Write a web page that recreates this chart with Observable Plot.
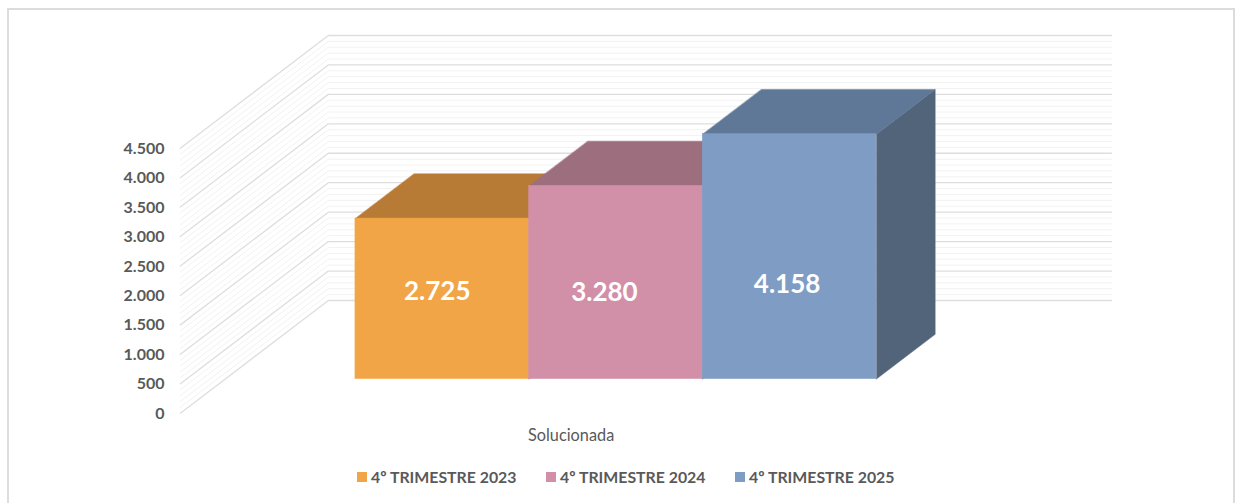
<!DOCTYPE html>
<html lang="pt">
<head>
<meta charset="utf-8">
<script src="https://cdn.jsdelivr.net/npm/d3@7"></script>
<script src="https://cdn.jsdelivr.net/npm/@observablehq/plot@0.6"></script>
<style>
  html, body { margin: 0; padding: 0; background: #fff; overflow: hidden; }
  #frame { position: absolute; left: 7px; top: 8px; width: 1228px; height: 500px; border: 2px solid #dcdcdc; box-sizing: border-box; pointer-events: none; }
  #chart { position: absolute; left: 0; top: 0; width: 1235px; height: 503px; font-family: Lato, sans-serif; }
  #chart svg { display: block; }
  #legend { position: absolute; left: 0; top: 467px; width: 1235px; height: 20px; color: #595959; font: 700 15.85px/20px Lato, sans-serif; white-space: nowrap; }
  #legend span { position: absolute; top: 0; }
  #legend i { position: absolute; top: 5px; width: 10px; height: 10px; margin-left: -14px; }
</style>
</head>
<body>
<div id="chart"></div>
<div id="frame"></div>
<script>
// --- data ---
const categories = ["4º TRIMESTRE 2023", "4º TRIMESTRE 2024", "4º TRIMESTRE 2025"];
const values = [2725, 3280, 4158];
const axisLabel = "Solucionada";
const yTicks = [0, 500, 1000, 1500, 2000, 2500, 3000, 3500, 4000, 4500];
const yMinor = [100, 200, 300, 400, 600, 700, 800, 900, 1100, 1200, 1300, 1400, 1600, 1700, 1800, 1900,
  2100, 2200, 2300, 2400, 2600, 2700, 2800, 2900, 3100, 3200, 3300, 3400, 3600, 3700, 3800, 3900, 4100, 4200, 4300, 4400];

// --- style ---
const frontColors = ["#F2A546", "#D28FA8", "#7F9DC4"];
const topColors = ["#B87B35", "#9C6E7E", "#607898"];
const sideColors = ["#B87B35", "#8E6576", "#526479"];
const labelNudge = [[-5, -7], [-11.5, 10], [-2.5, 28]];

// --- oblique 3D model: depth d in 0..1 shifts right and up ---
const depthX = 0.852, depthY = 1914;
const wallLeft = -0.75, wallRight = 3.76;
const barFront = 0.303, barBack = 0.70;
const X = (c, d) => c + d * depthX;
const Y = (v, d) => v + d * depthY;

const locale = d3.formatLocale({decimal: ",", thousands: ".", grouping: [3], currency: ["", ""]});
const fmt = locale.format(",d");

const gridRows = ts => ts.flatMap(v => [
  {v, x: X(wallLeft, 0), y: Y(v, 0)},
  {v, x: X(wallLeft, 1), y: Y(v, 1)},
  {v, x: X(wallLeft, 1) + (wallRight - wallLeft), y: Y(v, 1)}
]);

const marks = [
  Plot.line(gridRows(yMinor), {x: "x", y: "y", z: "v", stroke: "#f2f2f2", strokeWidth: 1}),
  Plot.line(gridRows(yTicks), {x: "x", y: "y", z: "v", stroke: "#dedede", strokeWidth: 1.3}),
  Plot.axisY({ticks: yTicks, tickSize: 0, tickPadding: 16, dy: 0.5, tickFormat: fmt, fontSize: 16, fontWeight: 700, fill: "#595959", label: null}),
  Plot.axisX({ticks: [1.5], tickSize: 0, tickPadding: 0, tickFormat: () => axisLabel, fontSize: 16.3, fill: "#595959", label: null})
];

values.forEach((v, i) => {
  const c0 = i, c1 = i + 1;
  const poly = (pts, fill) => Plot.line(pts.map(([c, val, d]) => ({x: X(c, d), y: Y(val, d)})), {
    x: "x", y: "y", fill, stroke: fill, strokeWidth: 0.5, curve: "linear-closed"
  });
  marks.push(
    poly([[c1, 0, barFront], [c1, 0, barBack], [c1, v, barBack], [c1, v, barFront]], sideColors[i]),
    poly([[c0, v, barFront], [c1, v, barFront], [c1, v, barBack], [c0, v, barBack]], topColors[i]),
    Plot.rect([v], {
      x1: () => X(c0, barFront), x2: () => X(c1, barFront),
      y1: () => Y(0, barFront), y2: d => Y(d, barFront),
      fill: frontColors[i], stroke: frontColors[i], strokeWidth: 0.5, inset: 0
    })
  );
});

values.forEach((v, i) => {
  marks.push(Plot.text([v], {
    x: () => X(i + 0.5, barFront),
    y: d => Y(d / 2, barFront),
    text: d => fmt(d),
    dx: labelNudge[i][0], dy: labelNudge[i][1],
    fill: "#fff", fontSize: 26, fontWeight: 700
  }));
});

const plot = Plot.plot({
  width: 1235,
  height: 460,
  marginLeft: 180, marginRight: 0, marginTop: 0, marginBottom: 31,
  style: {fontFamily: "Lato, sans-serif", background: "transparent", overflow: "visible"},
  x: {type: "linear", domain: [0, 3], range: [310.1, 831.1]},
  y: {type: "linear", domain: [0, 4500], range: [412.7, 147.7]},
  marks
});
document.getElementById("chart").appendChild(plot);

// legend below the SVG
const legend = document.createElement("div");
legend.id = "legend";
const starts = [371, 560, 749];
categories.forEach((name, i) => {
  const s = document.createElement("span");
  s.style.left = starts[i] + "px";
  const sw = document.createElement("i");
  sw.style.background = frontColors[i];
  s.appendChild(sw);
  s.appendChild(document.createTextNode(name));
  legend.appendChild(s);
});
document.getElementById("chart").appendChild(legend);
</script>
</body>
</html>
